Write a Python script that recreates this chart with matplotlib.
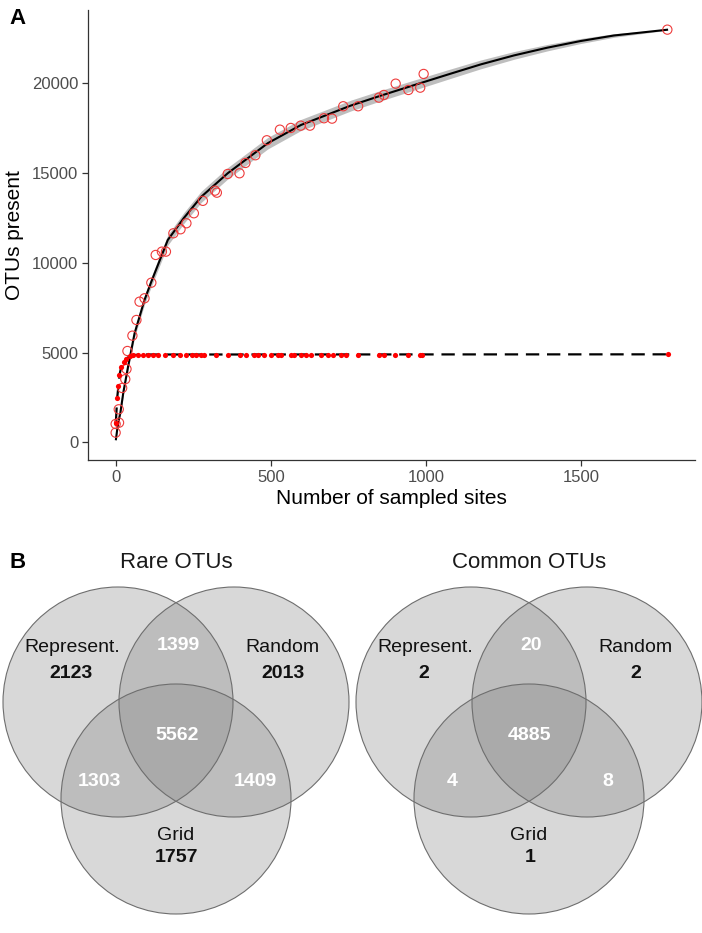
import matplotlib
matplotlib.use("Agg")
import matplotlib.pyplot as plt
from matplotlib.patches import Circle
import numpy as np

plt.rcParams['font.family'] = ['Liberation Sans', 'DejaVu Sans']

# ---------------- Panel A data ----------------
rare_x = [0, 0, 11, 10, 21, 31, 35, 38, 54, 67, 77, 93, 115, 129, 149, 162, 186, 209, 228, 252,
          281, 320, 326, 361, 399, 418, 450, 487, 529, 564, 596, 626, 671, 697, 733, 781, 848,
          864, 902, 943, 981, 992, 1777]
rare_y = [535, 1020, 1092, 1838, 3025, 3515, 4080, 5086, 5940, 6813, 7833, 8022, 8891, 10435,
          10620, 10620, 11643, 11866, 12201, 12758, 13450, 14017, 13905, 14947, 14986, 15560,
          15989, 16824, 17415, 17509, 17638, 17638, 18050, 18029, 18718, 18718, 19198, 19348,
          19977, 19626, 19754, 20518, 22986]

fit_x = [1, 5, 10, 15, 25, 40, 61, 93, 115, 168, 220, 276, 361, 490, 597, 758, 856, 962,
         1069, 1176, 1283, 1390, 1497, 1605, 1776]
fit_y = [170, 700, 1250, 1615, 2800, 4210, 6070, 7930, 8950, 11270, 12500, 13680, 14986, 16660,
         17676, 18760, 19320, 19900, 20480, 21050, 21550, 21980, 22350, 22660, 22980]
fit_halfwidth = [40, 70, 100, 120, 150, 190, 220, 250, 270, 290, 300, 310, 320, 320, 310, 300,
                 290, 280, 265, 245, 215, 180, 140, 100, 30]

common_x = [0, 5, 9, 12, 18, 27, 34, 45, 56, 72, 88, 104, 120, 136, 158, 185, 206, 227, 247,
            259, 276, 286, 322, 361, 402, 421, 446, 459, 478, 501, 524, 533, 565, 575, 597, 613,
            630, 662, 684, 700, 726, 742, 781, 847, 863, 900, 943, 981, 988, 1778]
common_y = [1060, 2470, 3140, 3730, 4180, 4490, 4660, 4790, 4865, 4885, 4890, 4890, 4890, 4890,
            4890, 4890, 4890, 4890, 4890, 4890, 4890, 4890, 4890, 4890, 4890, 4890, 4890, 4890,
            4890, 4890, 4890, 4890, 4890, 4890, 4890, 4890, 4890, 4890, 4890, 4890, 4890, 4890,
            4890, 4890, 4890, 4890, 4890, 4890, 4890, 4900]
dash_x = [1, 5, 9, 12, 18, 27, 34, 45, 56, 72, 100, 200, 1778]
dash_y = [1200, 2470, 3140, 3730, 4180, 4490, 4660, 4790, 4850, 4880, 4890, 4890, 4900]

x_ticks = [0, 500, 1000, 1500]
y_ticks = [0, 5000, 10000, 15000, 20000]

# ---------------- Panel B data ----------------
venn_titles = ["Rare OTUs", "Common OTUs"]
set_names = ["Represent.", "Random", "Grid"]
rare_only = [2123, 2013, 1757]          # Represent., Random, Grid
rare_pairs = [1399, 1303, 1409]         # Rep&Ran, Rep&Grid, Ran&Grid
rare_all = 5562
common_only = [2, 2, 1]
common_pairs = [20, 4, 8]
common_all = 4885

# ---------------- Figure ----------------
W, H = 702, 933
fig = plt.figure(figsize=(W / 100, H / 100), dpi=100)

axA = fig.add_axes([88 / W, 1 - 460 / H, (695 - 88) / W, (460 - 10) / H])
lo = np.array(fit_y) - np.array(fit_halfwidth)
hi = np.array(fit_y) + np.array(fit_halfwidth)
axA.fill_between(fit_x, lo, hi, color='#b3b3b3', alpha=0.85, lw=0, zorder=1)
axA.plot(fit_x, fit_y, color='black', lw=1.5, zorder=3)
axA.plot(dash_x, dash_y, color='black', lw=1.6, ls=(0, (6, 3.5)), zorder=2)
axA.scatter(rare_x, rare_y, s=44, facecolors='none', edgecolors='#ee3b3b', linewidths=0.8, zorder=4)
axA.scatter(common_x, common_y, s=14, color='#ff0000', lw=0, zorder=4)

axA.set_xlim(-89, 1866)
axA.set_ylim(-986, 24080)
axA.set_xticks(x_ticks)
axA.set_yticks(y_ticks)
axA.set_xticklabels([str(v) for v in x_ticks])
axA.set_yticklabels([str(v) for v in y_ticks])
for s in ['top', 'right']:
    axA.spines[s].set_visible(False)
for s in ['left', 'bottom']:
    axA.spines[s].set_color('#333333')
    axA.spines[s].set_linewidth(0.9)
axA.tick_params(axis='both', colors='#333333', labelcolor='#4d4d4d', labelsize=12,
                length=4, width=0.9, direction='out', pad=3)
axA.set_xlabel("Number of sampled sites", fontsize=15, color='black', labelpad=3)
axA.set_ylabel("OTUs present", fontsize=15, color='black', labelpad=6)

fig.text(18 / W, 1 - 18 / H, "A", fontsize=16, fontweight='bold', ha='center', va='center')
fig.text(18 / W, 1 - 563 / H, "B", fontsize=16, fontweight='bold', ha='center', va='center')

# Venn axes in pixel coordinates
top_px = 545
axB = fig.add_axes([0, 0, 1, (H - top_px) / H])
axB.set_xlim(0, W)
axB.set_ylim(H, top_px)
axB.axis('off')

r = 115
d = 58
h = 97
venn_centers = [(176, 702), (529, 702)]
label_off = {
    'name': [(-104, -55), (106, -55), (0, 133)],
    'only': [(-105, -28), (107, -28), (1, 156)],
    'pairs': [(2, -57), (-77, 79), (79, 79)],
    'all': (1, 34),
}

def draw_venn(cx, cy, title, only, pairs, allv):
    centers = [(cx - d, cy), (cx + d, cy), (cx, cy + h)]
    for (x, y) in centers:
        axB.add_patch(Circle((x, y), r, facecolor='#808080', alpha=0.3, edgecolor='none'))
    for (x, y) in centers:
        axB.add_patch(Circle((x, y), r, facecolor='none', edgecolor='#6e6e6e', lw=0.8))
    axB.text(cx, 563, title, fontsize=16, ha='center', va='center', color='#1a1a1a')
    for i in range(3):
        ox, oy = label_off['name'][i]
        axB.text(cx + ox, cy + oy, set_names[i], fontsize=14, ha='center', va='center', color='#111111')
        ox, oy = label_off['only'][i]
        axB.text(cx + ox, cy + oy, str(only[i]), fontsize=14, fontweight='bold', ha='center',
                 va='center', color='#111111')
        ox, oy = label_off['pairs'][i]
        axB.text(cx + ox, cy + oy, str(pairs[i]), fontsize=14, fontweight='bold', ha='center',
                 va='center', color='white')
    ox, oy = label_off['all']
    axB.text(cx + ox, cy + oy, str(allv), fontsize=14, fontweight='bold', ha='center',
             va='center', color='white')

draw_venn(*venn_centers[0], venn_titles[0], rare_only, rare_pairs, rare_all)
draw_venn(*venn_centers[1], venn_titles[1], common_only, common_pairs, common_all)

fig.savefig("out.png", dpi=100)
